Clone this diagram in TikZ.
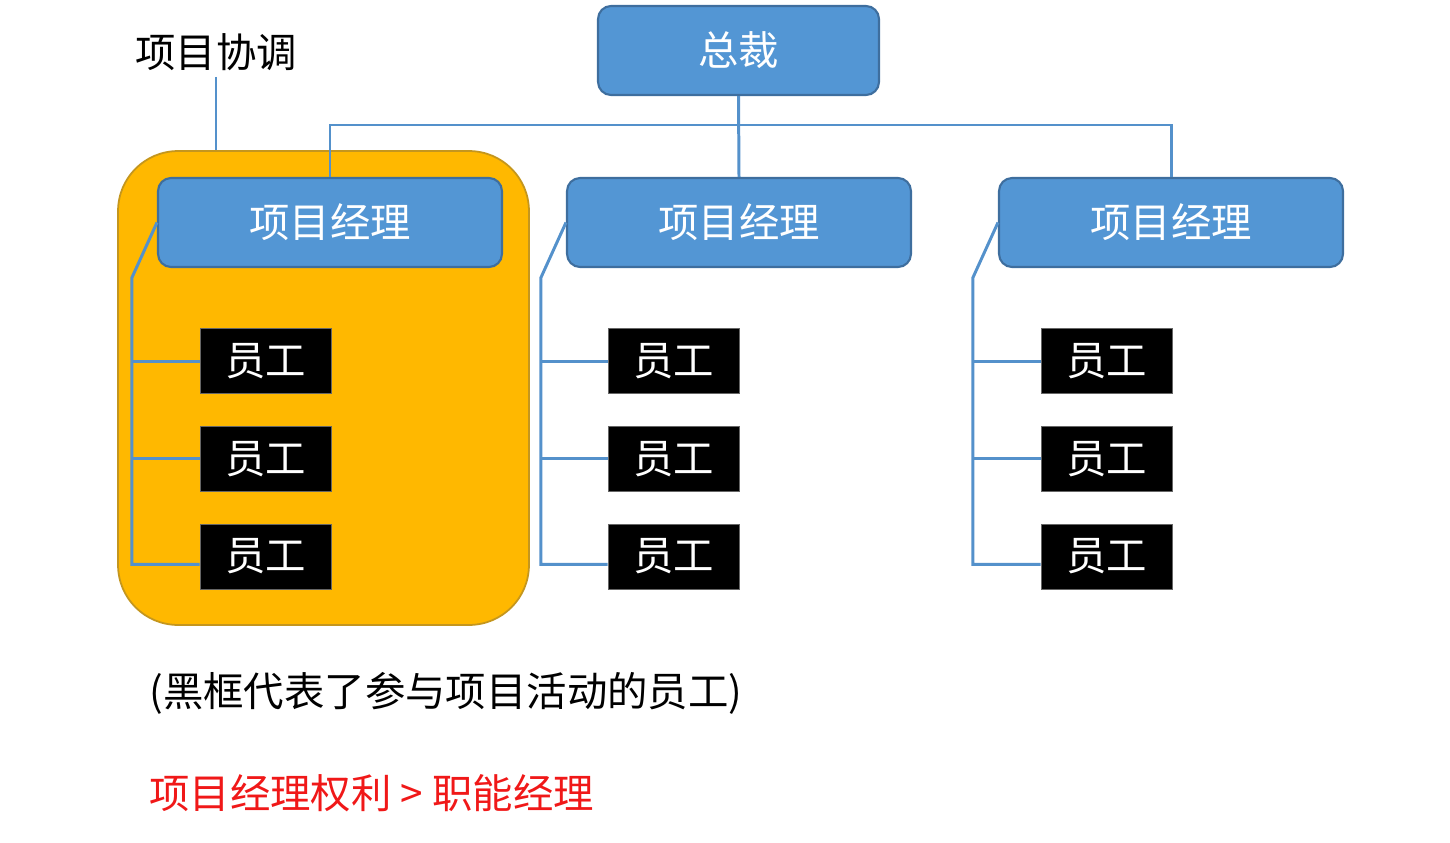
\documentclass[tikz,border=0pt]{standalone}
\usepackage{fontspec}
\setmainfont{Noto Sans CJK SC}
\usepackage{tikz}
\usepackage{xcolor}
\usetikzlibrary{positioning}
\definecolor{pmblue}{RGB}{83,150,212}
\definecolor{pmedge}{RGB}{62,110,158}
\definecolor{linkblue}{RGB}{84,145,203}
\definecolor{teamgold}{RGB}{255,184,0}
\definecolor{teamedge}{RGB}{196,150,30}
\definecolor{notered}{RGB}{240,24,24}
\tikzset{
    big-text/.style = {font=\fontsize{23pt}{28pt}\selectfont},
    boss-box/.style = {big-text, draw=pmedge, fill=pmblue, text=white, line width=1.2pt, rectangle, rounded corners=0.26cm, minimum width=5.62cm, minimum height=1.78cm, inner sep=0pt},
    pm-box/.style = {boss-box, minimum width=6.88cm},
    staff-box/.style = {big-text, draw=black!60, fill=black, text=white, thin, rectangle, minimum width=2.62cm, minimum height=1.3cm, inner sep=0pt},
    team-box/.style = {draw=teamedge, fill=teamgold, line width=1pt, rectangle, rounded corners=1.2cm, minimum width=8.22cm, minimum height=9.48cm, inner sep=0pt},
    link-line/.style = {draw=linkblue, line width=1.7pt},
}
\begin{document}
\begin{tikzpicture}[x=0.02cm, y=-0.02cm]
\useasboundingbox (0,0) rectangle (1450,842);
% project team highlight
\node [team-box] (team) at (323.5,388) {};
\node [big-text] (coord) at (216,52) {项目协调};
\draw [link-line] (coord.south) -- (coord.south |- team.north);

% boss and project managers
\node [boss-box] (boss) at (738.5,50.5) {总裁};
\node [pm-box] (pm1) at (330,222.5) {项目经理};
\node [pm-box] (pm2) at (739,222.5) {项目经理};
\node [pm-box] (pm3) at (1171,222.5) {项目经理};
\coordinate (bus) at (738,125);
\draw [link-line] (boss.south) -- (pm2.north);
\draw [link-line] (pm1.north) -- (pm1.north |- bus) -- (pm3.north |- bus) -- (pm3.north);

% staff
\node [staff-box] (s11) at (265.5,361) {员工};
\node [staff-box, below=0.64cm of s11] (s12) {员工};
\node [staff-box, below=0.64cm of s12] (s13) {员工};
\node [staff-box] (s21) at (673.5,361) {员工};
\node [staff-box, below=0.64cm of s21] (s22) {员工};
\node [staff-box, below=0.64cm of s22] (s23) {员工};
\node [staff-box] (s31) at (1106.5,361) {员工};
\node [staff-box, below=0.64cm of s31] (s32) {员工};
\node [staff-box, below=0.64cm of s32] (s33) {员工};

% links to staff
\draw [link-line] (pm1.west) -- ++(-25,55) coordinate (bend1) |- ([yshift=-0.16cm]s13.west);
\draw [link-line] (bend1 |- s11.west) -- (s11.west);
\draw [link-line] (bend1 |- s12.west) -- (s12.west);
\draw [link-line] (pm2.west) -- ++(-25,55) coordinate (bend2) |- ([yshift=-0.16cm]s23.west);
\draw [link-line] (bend2 |- s21.west) -- (s21.west);
\draw [link-line] (bend2 |- s22.west) -- (s22.west);
\draw [link-line] (pm3.west) -- ++(-25,55) coordinate (bend3) |- ([yshift=-0.16cm]s33.west);
\draw [link-line] (bend3 |- s31.west) -- (s31.west);
\draw [link-line] (bend3 |- s32.west) -- (s32.west);

% notes
\node [big-text, anchor=west, inner sep=0pt] (note) at (149,693) {(黑框代表了参与项目活动的员工)};
\node [big-text, anchor=west, inner sep=0pt, text=notered] (power) at (149,793) {项目经理权利 > 职能经理};
\end{tikzpicture}
\end{document}
